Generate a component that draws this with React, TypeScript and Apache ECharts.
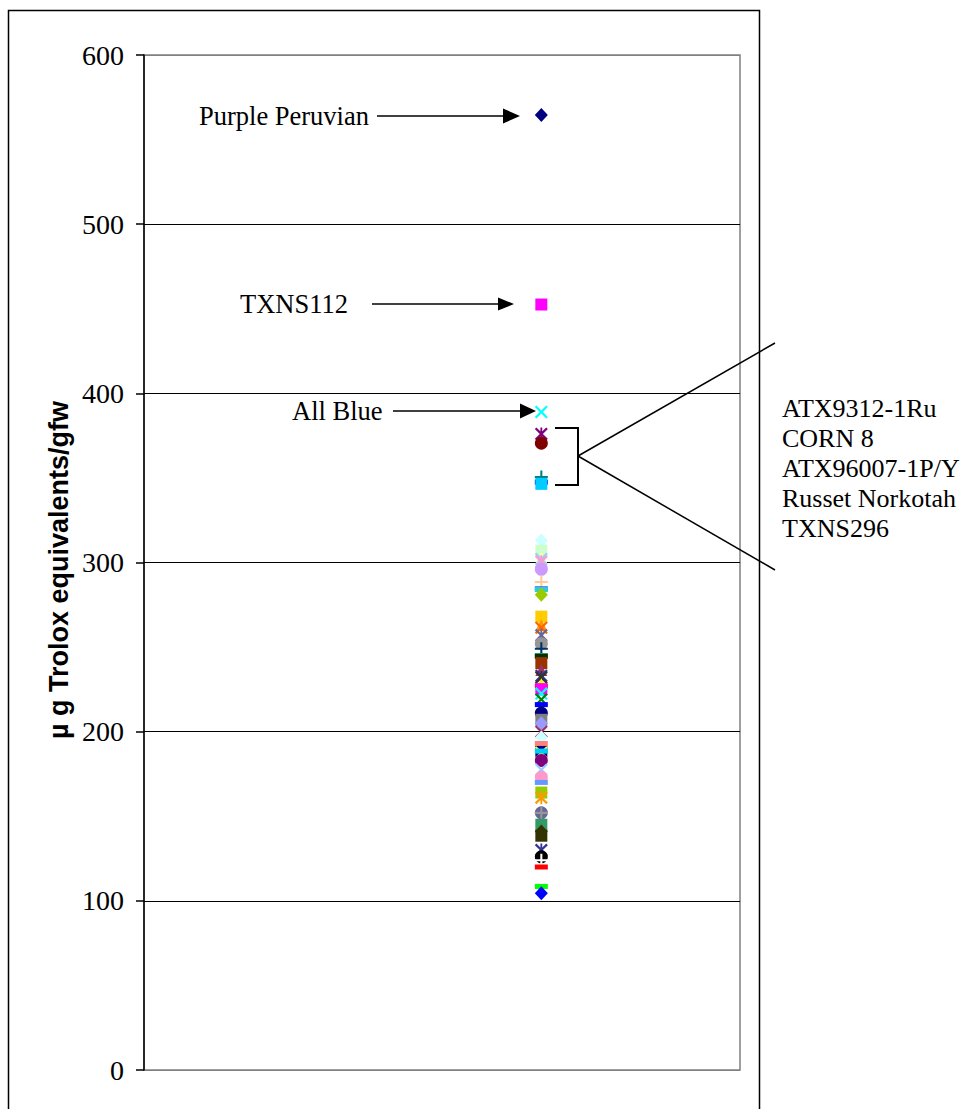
import React, { useEffect, useRef } from "react";
import * as echarts from "echarts";

// Antioxidant values (µg Trolox equivalents/gfw), one per genotype, drawn in series order
const values: number[] = [
  564.5, 452.5, 389, 376, 370.5, 350.5, 347.5, 346.5,
  313, 307, 303, 302, 300.5, 296, 288.5, 284.5, 284, 281,
  268, 263, 261.5, 257, 252, 249, 245, 244.5, 240.5, 236.5, 233, 232,
  228, 227, 225, 222.5, 219, 216, 211, 207, 205, 200, 196.5,
  193, 188, 187.5, 188.5, 183, 177.5, 173, 170, 164, 161,
  152, 152, 145, 138.5, 141, 130, 126, 124, 120, 108.5, 104.5,
];

const markerColors: string[] = [
  "#000080", "#FF00FF", "#00FFFF", "#800080", "#800000", "#008080", "#0000FF", "#00CCFF",
  "#CCFFFF", "#CCFFCC", "#FFFF99", "#99CCFF", "#FF99CC", "#CC99FF", "#FFCC99", "#3366FF", "#33CCCC", "#99CC00",
  "#FFCC00", "#FF9900", "#FF6600", "#666699", "#969696", "#003366", "#339966", "#003300", "#993300", "#993366", "#333399", "#333333",
  "#FFFF00", "#FF0000", "#FF00FF", "#00FFFF", "#008000", "#0000FF", "#000080", "#808080", "#9999FF", "#993366", "#CCFFFF",
  "#FF8080", "#000080", "#FFFF00", "#00CCFF", "#800080", "#99CCFF", "#FF99CC", "#6699FF", "#99CC00", "#FF9900",
  "#666699", "#969696", "#339966", "#333300", "#333300", "#333399", "#000000", "#FFFFFF", "#FF0000", "#00FF00", "#0000FF",
];

const markerKinds: string[] = [
  "diamond", "square", "x", "star", "circle", "plus", "dash", "square",
  "diamond", "square", "triangle", "x", "star", "circle", "plus", "dash", "dash", "diamond",
  "square", "triangle", "x", "star", "circle", "plus", "dash", "dash", "square", "triangle", "x", "star",
  "triangle", "dash", "square", "x", "x", "dash", "circle", "square", "diamond", "x", "diamond",
  "dash", "square", "x", "dash", "circle", "x", "circle", "dash", "square", "star",
  "circle", "plus", "square", "square", "diamond", "star", "circle", "plus", "dash", "dash", "diamond",
];

const yTicks = { min: 0, max: 600, interval: 100 };

const X_PATH =
  "path://M0,1.2 L1.2,0 L5,3.8 L8.8,0 L10,1.2 L6.2,5 L10,8.8 L8.8,10 L5,6.2 L1.2,10 L0,8.8 L3.8,5 Z";
const PLUS_PATH = "path://M4.2,0 H5.8 V4.2 H10 V5.8 H5.8 V10 H4.2 V5.8 H0 V4.2 H4.2 Z";
const STAR_PATH =
  "path://M0,1.2 L1.2,0 L5,3.8 L8.8,0 L10,1.2 L6.2,5 L10,8.8 L8.8,10 L5,6.2 L1.2,10 L0,8.8 L3.8,5 Z M4.3,0 H5.7 V10 H4.3 Z";

function markerStyle(kind: string): { symbol: string; symbolSize: number | number[] } {
  switch (kind) {
    case "diamond":
      return { symbol: "diamond", symbolSize: [13, 14] };
    case "square":
      return { symbol: "rect", symbolSize: 12 };
    case "triangle":
      return { symbol: "triangle", symbolSize: 12 };
    case "x":
      return { symbol: X_PATH, symbolSize: 13 };
    case "star":
      return { symbol: STAR_PATH, symbolSize: 13 };
    case "circle":
      return { symbol: "circle", symbolSize: 13 };
    case "plus":
      return { symbol: PLUS_PATH, symbolSize: 13 };
    default:
      return { symbol: "rect", symbolSize: [13, 5] };
  }
}

const SERIF = "'Liberation Serif', 'Times New Roman', serif";
const SANS = "'Liberation Sans', Arial, sans-serif";

export default function App() {
  const ref = useRef<HTMLDivElement>(null);

  useEffect(() => {
    if (!ref.current) return;
    const chart = echarts.init(ref.current, undefined, { renderer: "svg" });

    const data = values.map((v, i) => {
      const m = markerStyle(markerKinds[i]);
      return {
        value: [2, v],
        symbol: m.symbol,
        symbolSize: m.symbolSize,
        itemStyle: { color: markerColors[i], opacity: 1 },
      };
    });

    const rightLabels = ["ATX9312-1Ru", "CORN 8", "ATX96007-1P/Y", "Russet Norkotah", "TXNS296"];

    const graphic: any[] = [
      {
        type: "rect",
        z: -10,
        shape: { x: 8.5, y: 10.5, width: 751, height: 1200 },
        style: { fill: "none", stroke: "#000", lineWidth: 1.5 },
      },
      {
        type: "text",
        x: 59,
        y: 570,
        rotation: Math.PI / 2,
        style: {
          text: "µ g Trolox equivalents/gfw",
          font: `bold 27px ${SANS}`,
          fill: "#000",
          align: "center",
          verticalAlign: "middle",
        },
      },
      // Purple Peruvian
      { type: "text", x: 369, y: 116, style: { text: "Purple Peruvian", font: `26.5px ${SERIF}`, fill: "#000", align: "right", verticalAlign: "middle" } },
      { type: "line", shape: { x1: 377, y1: 116, x2: 505, y2: 116 }, style: { stroke: "#000", lineWidth: 1.5 } },
      { type: "polygon", shape: { points: [[503, 108.5], [520, 116], [503, 123.5]] }, style: { fill: "#000" } },
      // TXNS112
      { type: "text", x: 240, y: 304, style: { text: "TXNS112", font: `26.5px ${SERIF}`, fill: "#000", align: "left", verticalAlign: "middle" } },
      { type: "line", shape: { x1: 372, y1: 304, x2: 500, y2: 304 }, style: { stroke: "#000", lineWidth: 1.5 } },
      { type: "polygon", shape: { points: [[498, 297.5], [514, 304], [498, 310.5]] }, style: { fill: "#000" } },
      // All Blue
      { type: "text", x: 292, y: 411, style: { text: "All Blue", font: `26.5px ${SERIF}`, fill: "#000", align: "left", verticalAlign: "middle" } },
      { type: "line", shape: { x1: 393, y1: 411, x2: 522, y2: 411 }, style: { stroke: "#000", lineWidth: 1.5 } },
      { type: "polygon", shape: { points: [[520, 403.5], [536, 411], [520, 418.5]] }, style: { fill: "#000" } },
      // Bracket
      {
        type: "polyline",
        shape: { points: [[555, 428], [578, 428], [578, 485], [555, 485]] },
        style: { stroke: "#000", lineWidth: 2, fill: "none" },
      },
      { type: "line", shape: { x1: 578, y1: 456, x2: 775, y2: 343 }, style: { stroke: "#000", lineWidth: 1.5 } },
      { type: "line", shape: { x1: 578, y1: 456, x2: 775, y2: 570 }, style: { stroke: "#000", lineWidth: 1.5 } },
      ...rightLabels.map((t, i) => ({
        type: "text",
        x: 782,
        y: 408 + i * 30,
        style: { text: t, font: `26px ${SERIF}`, fill: "#000", align: "left", verticalAlign: "middle" },
      })),
    ];

    chart.setOption({
      animation: false,
      backgroundColor: "#fff",
      grid: {
        left: 144,
        top: 55,
        right: 231,
        bottom: 39,
        show: true,
        borderColor: "#808080",
        borderWidth: 1.5,
        backgroundColor: "transparent",
      },
      xAxis: {
        type: "value",
        min: 0,
        max: 3,
        show: false,
      },
      yAxis: {
        type: "value",
        min: yTicks.min,
        max: yTicks.max,
        interval: yTicks.interval,
        axisLine: { show: true, lineStyle: { color: "#000", width: 1.5 } },
        axisTick: { show: true, inside: false, length: 8, lineStyle: { color: "#000", width: 1.5 } },
        axisLabel: {
          margin: 20,
          color: "#000",
          fontFamily: SERIF,
          fontSize: 28,
        },
        splitLine: {
          show: true,
          lineStyle: {
            color: ["#808080", "#000", "#000", "#000", "#000", "#000", "#808080"],
            width: 1,
          },
        },
      },
      series: [
        {
          type: "scatter",
          data,
          z: 3,
          itemStyle: { opacity: 1 },
        },
      ],
      graphic,
    });

    return () => chart.dispose();
  }, []);

  return (
    <div
      ref={ref}
      style={{ position: "absolute", left: 0, top: 0, width: 971, height: 1109 }}
    />
  );
}
